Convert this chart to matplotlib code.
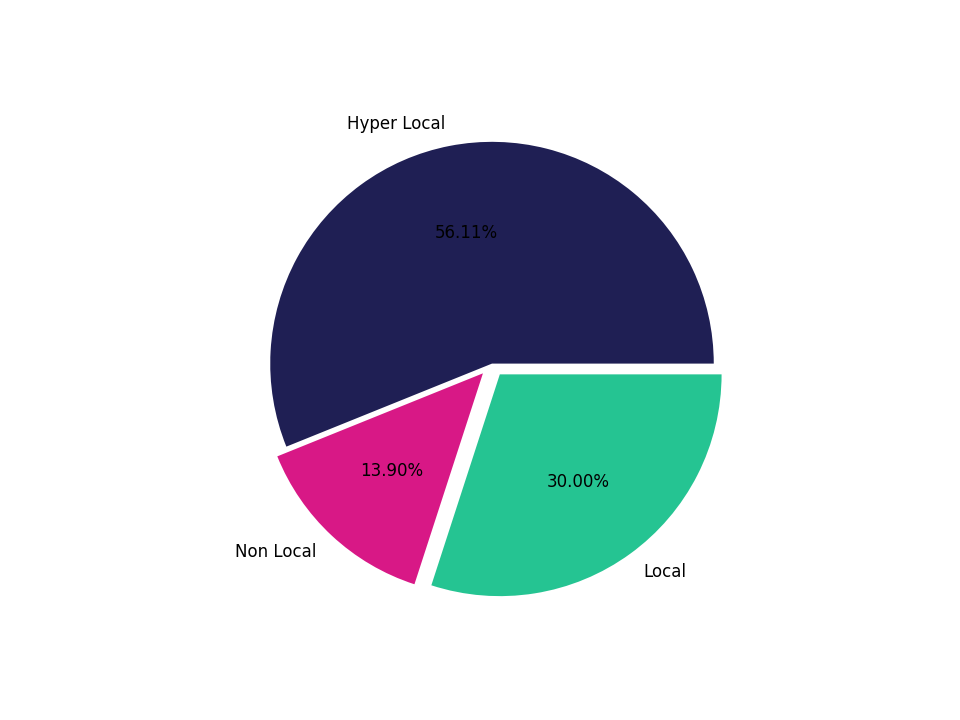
import matplotlib
matplotlib.use("Agg")
import matplotlib.pyplot as plt

labels = ["Hyper Local", "Non Local", "Local"]
values = [56.105, 13.895, 29.995]
colors = ["#1f1f54", "#d81886", "#25c492"]
explode = [0, 0.06, 0.06]

fig, ax = plt.subplots(figsize=(9.6, 7.2), dpi=100)
ax.pie(values, labels=labels, colors=colors, explode=explode, autopct="%.2f%%",
       textprops={"fontsize": 12})
ax.set_aspect("equal")
fig.savefig("out.png", dpi=100)
